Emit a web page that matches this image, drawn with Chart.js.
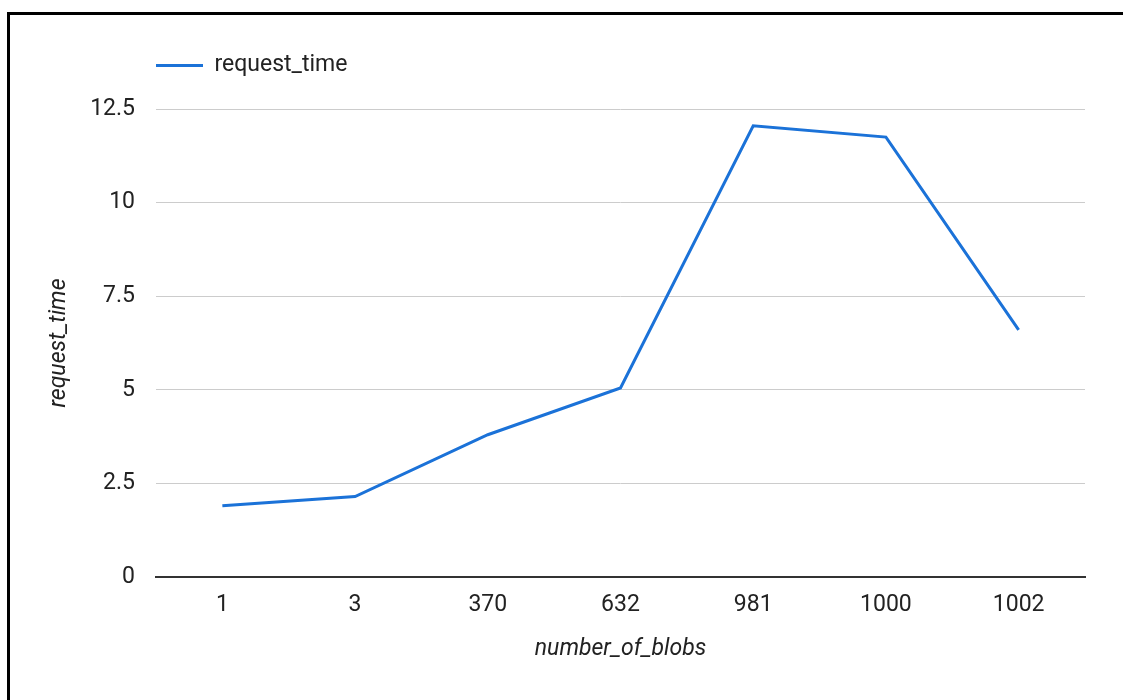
<!DOCTYPE html>
<html>
<head>
<meta charset="utf-8">
<script src="https://cdn.jsdelivr.net/npm/chart.js@4.4.1/dist/chart.umd.min.js"></script>
<style>
  html, body { margin: 0; padding: 0; background: #fff; }
  #wrap { position: relative; width: 1123px; height: 700px; overflow: hidden; }
  #wrap canvas { position: absolute; left: 0; top: 0; }
  #frame {
    position: absolute; left: 7px; top: 12px; width: 1300px; height: 900px;
    border-left: 3px solid #000; border-top: 3px solid #000; pointer-events: none;
  }
</style>
</head>
<body>
<div id="wrap">
  <canvas id="chart" width="1123" height="700"></canvas>
  <div id="frame"></div>
</div>
<script>
// Blob counts on the x axis and the measured request time for each
const blobCounts = ['1', '3', '370', '632', '981', '1000', '1002'];
const requestTimes = [1.9, 2.15, 3.8, 5.05, 12.05, 11.75, 6.6];
const yTickValues = [0, 2.5, 5, 7.5, 10, 12.5];
const seriesName = 'request_time';
const xAxisTitle = 'number_of_blobs';
const yAxisTitle = 'request_time';

const LINE_BLUE = '#1b72d8';
const FONT = 'Roboto, "Noto Sans", sans-serif';
const FONT_SIZE = 23;

// Place the legend row so it starts over the plot's left edge
const legendPlacer = {
  id: 'legendPlacer',
  afterLayout(chart) {
    const lg = chart.legend;
    if (!lg) return;
    const pad = lg.options.labels.padding;
    const dx = chart.chartArea.left - pad - lg.left;
    const dy = 54 - pad - lg.top;
    lg.left += dx; lg.right += dx;
    lg.top += dy; lg.bottom += dy;
  }
};

new Chart(document.getElementById('chart'), {
  type: 'line',
  data: {
    labels: blobCounts,
    datasets: [{
      label: seriesName,
      data: requestTimes,
      borderColor: LINE_BLUE,
      backgroundColor: LINE_BLUE,
      borderWidth: 3,
      tension: 0,
      pointRadius: 0,
      pointHoverRadius: 0,
      fill: false
    }]
  },
  options: {
    responsive: false,
    animation: false,
    devicePixelRatio: 1,
    layout: { padding: { top: 66, right: 38, bottom: 0, left: 0 } },
    plugins: {
      tooltip: { enabled: false },
      legend: {
        position: 'top',
        align: 'start',
        labels: {
          boxWidth: 47,
          boxHeight: 3,
          padding: 10,
          color: '#222',
          font: { family: FONT, size: FONT_SIZE },
          generateLabels(chart) {
            return chart.data.datasets.map((ds, i) => ({
              text: ds.label,
              fillStyle: ds.borderColor,
              strokeStyle: ds.borderColor,
              lineWidth: 0,
              fontColor: '#222',
              hidden: false,
              datasetIndex: i
            }));
          }
        }
      }
    },
    scales: {
      x: {
        type: 'category',
        offset: true,
        grid: { display: false, drawTicks: false },
        border: { display: true, color: '#333', width: 2 },
        ticks: {
          padding: 14,
          color: '#222',
          font: { family: FONT, size: FONT_SIZE },
          maxRotation: 0,
          autoSkip: false
        },
        title: {
          display: true,
          text: xAxisTitle,
          color: '#222',
          font: { family: FONT, size: FONT_SIZE, style: 'italic' },
          padding: { top: 0, bottom: 37 }
        },
        afterFit(scale) { scale.height = 123; }
      },
      y: {
        min: 0,
        max: 12.5,
        grid: {
          color: ctx => (ctx.tick && ctx.tick.value === 0) ? 'rgba(0,0,0,0)' : '#cccccc',
          lineWidth: 1,
          drawTicks: false
        },
        border: { display: false },
        afterBuildTicks(scale) {
          scale.ticks = yTickValues.map(v => ({ value: v }));
        },
        ticks: {
          padding: 21,
          color: '#222',
          font: { family: FONT, size: FONT_SIZE }
        },
        title: {
          display: true,
          text: yAxisTitle,
          color: '#222',
          font: { family: FONT, size: FONT_SIZE, style: 'italic' },
          padding: { top: 45, bottom: 0 }
        },
        afterFit(scale) { scale.width = 156; }
      }
    }
  },
  plugins: [legendPlacer]
});
</script>
</body>
</html>
